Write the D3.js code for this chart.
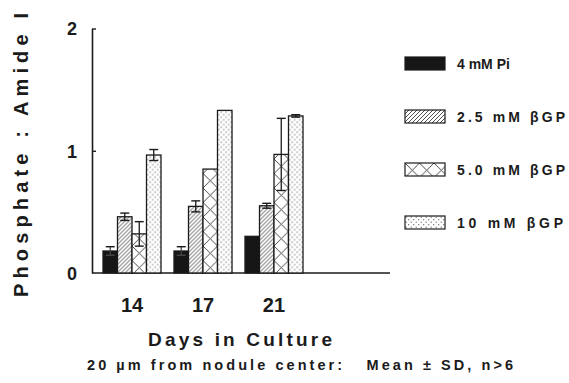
<!DOCTYPE html>
<html>
<head>
<meta charset="utf-8">
<script src="https://cdn.jsdelivr.net/npm/d3@7"></script>
<style>
  html, body { margin: 0; padding: 0; background: #fff; }
  svg { display: block; font-family: "Liberation Sans", Arial, Helvetica, sans-serif; font-weight: bold; }
</style>
</head>
<body>
<svg id="chart" width="569" height="383"></svg>
<script>
// Culture days (x categories)
const days = ["14", "17", "21"];
// Treatment series
const seriesNames = ["4 mM Pi", "2.5 mM βGP", "5.0 mM βGP", "10 mM βGP"];
const seriesFills = ["url(#solid)", "url(#hatch)", "url(#cross)", "url(#dots)"];
// Phosphate : Amide I ratio, mean per day
const piMean    = [0.18, 0.18, 0.30];
const bgp25Mean = [0.46, 0.545, 0.55];
const bgp50Mean = [0.32, 0.85, 0.97];
const bgp10Mean = [0.965, 1.33, 1.285];
// Standard deviations (0 = no bar drawn)
const piSD    = [0.035, 0.035, 0];
const bgp25SD = [0.03, 0.045, 0.02];
const bgp50SD = [0.10, 0, 0.295];
const bgp10SD = [0.045, 0, 0.01];
const yTicks = [0, 1, 2];

const means = [piMean, bgp25Mean, bgp50Mean, bgp10Mean];
const sds = [piSD, bgp25SD, bgp50SD, bgp10SD];

const W = 569, H = 383;
const margin = { top: 28.5, right: 179, bottom: 110, left: 92 };
const width = W - margin.left - margin.right;
const height = H - margin.top - margin.bottom;
const ink = "#1b1b1b";

const svg = d3.select("#chart");
svg.append("rect").attr("width", W).attr("height", H).attr("fill", "#fff");

// Fill patterns
const defs = svg.append("defs");
const solid = defs.append("pattern").attr("id", "solid")
  .attr("patternUnits", "userSpaceOnUse").attr("width", 4).attr("height", 4);
solid.append("rect").attr("width", 4).attr("height", 4).attr("fill", "#161616");

const hatch = defs.append("pattern").attr("id", "hatch")
  .attr("patternUnits", "userSpaceOnUse").attr("width", 4).attr("height", 4);
hatch.append("rect").attr("width", 4).attr("height", 4).attr("fill", "#fff");
hatch.append("path").attr("d", "M-1,1 l2,-2 M0,4 l4,-4 M3,5 l2,-2")
  .attr("stroke", "#3a3a3a").attr("stroke-width", 0.9);

const cross = defs.append("pattern").attr("id", "cross")
  .attr("patternUnits", "userSpaceOnUse").attr("width", 14.5).attr("height", 14.5);
cross.append("rect").attr("width", 14.5).attr("height", 14.5).attr("fill", "#fff");
cross.append("path").attr("d", "M0,0 L14.5,14.5 M14.5,0 L0,14.5")
  .attr("stroke", "#333").attr("stroke-width", 0.9);

const dots = defs.append("pattern").attr("id", "dots")
  .attr("patternUnits", "userSpaceOnUse").attr("width", 5).attr("height", 5);
dots.append("rect").attr("width", 5).attr("height", 5).attr("fill", "#fff");
dots.append("circle").attr("cx", 1.2).attr("cy", 1.2).attr("r", 0.6).attr("fill", "#555");
dots.append("circle").attr("cx", 3.7).attr("cy", 3.7).attr("r", 0.6).attr("fill", "#555");

const g = svg.append("g").attr("transform", `translate(${margin.left},${margin.top})`);

// Scales
const x0 = d3.scaleBand().domain(days).range([11, 211])
  .paddingInner(0.183).paddingOuter(0).align(0);
const x1 = d3.scaleBand().domain(d3.range(seriesNames.length))
  .range([0, x0.bandwidth()]).padding(0);
const y = d3.scaleLinear().domain([0, 2]).range([height, 0]);

// Y axis with inward ticks
const yAxis = g.append("g")
  .call(d3.axisLeft(y).tickValues(yTicks).tickFormat(d3.format("d"))
    .tickSizeInner(-4).tickSizeOuter(0).tickPadding(15));
yAxis.select(".domain").attr("stroke", ink).attr("stroke-width", 1.6);
yAxis.selectAll(".tick line").attr("stroke", ink).attr("stroke-width", 1.4)
  .filter(d => d === 0).remove();
yAxis.selectAll(".tick text").attr("fill", ink).style("font-size", "18px")
  .style("font-weight", "bold").attr("font-family", null).attr("dy", "0.36em");

// X axis: baseline spans the full plot width
g.append("line").attr("x1", 0).attr("x2", width).attr("y1", y(0)).attr("y2", y(0))
  .attr("stroke", ink).attr("stroke-width", 1.6);
const xAxis = g.append("g").attr("transform", `translate(0,${y(0)})`)
  .call(d3.axisBottom(x0).tickSize(0).tickPadding(25));
xAxis.select(".domain").remove();
xAxis.selectAll(".tick text").attr("fill", ink).style("font-size", "20px")
  .style("font-weight", "bold").attr("font-family", null);

// Bars
const flat = [];
days.forEach((d, i) => {
  seriesNames.forEach((s, j) => {
    flat.push({ day: d, s: j, v: means[j][i], sd: sds[j][i] });
  });
});

const barG = g.selectAll("g.bar").data(flat).join("g")
  .attr("class", "bar")
  .attr("transform", d => `translate(${x0(d.day) + x1(d.s)},0)`);

barG.append("rect")
  .attr("x", 0).attr("width", x1.bandwidth())
  .attr("y", d => y(d.v)).attr("height", d => y(0) - y(d.v))
  .attr("fill", d => seriesFills[d.s])
  .attr("stroke", ink).attr("stroke-width", 1.3);

// Error bars (mean ± SD)
const eb = barG.filter(d => d.sd > 0);
const cx = x1.bandwidth() / 2, cap = 4.5;
eb.append("line")
  .attr("x1", cx).attr("x2", cx)
  .attr("y1", d => y(d.v + d.sd)).attr("y2", d => y(d.v - d.sd))
  .attr("stroke", d => d.s === 0 ? "#444" : ink).attr("stroke-width", 1.3);
eb.append("line")
  .attr("x1", cx - cap).attr("x2", cx + cap)
  .attr("y1", d => y(d.v + d.sd)).attr("y2", d => y(d.v + d.sd))
  .attr("stroke", ink).attr("stroke-width", 1.4);
eb.append("line")
  .attr("x1", cx - cap).attr("x2", cx + cap)
  .attr("y1", d => y(d.v - d.sd)).attr("y2", d => y(d.v - d.sd))
  .attr("stroke", d => d.s === 0 ? "#444" : ink).attr("stroke-width", 1.4);

// Axis titles
svg.append("text")
  .attr("transform", "translate(28,155) rotate(-90)")
  .attr("text-anchor", "middle")
  .attr("textLength", 284).attr("lengthAdjust", "spacing")
  .attr("fill", ink).style("font-size", "20px")
  .text("Phosphate : Amide I");

svg.append("text")
  .attr("x", 240).attr("y", 346)
  .attr("text-anchor", "middle")
  .attr("textLength", 184).attr("lengthAdjust", "spacing")
  .attr("fill", ink).style("font-size", "19px")
  .text("Days in Culture");

svg.append("text")
  .attr("x", 300).attr("y", 370)
  .attr("text-anchor", "middle")
  .attr("textLength", 426).attr("lengthAdjust", "spacing")
  .attr("fill", ink).style("font-size", "14.5px")
  .style("white-space", "pre")
  .text("20 µm from nodule center:   Mean ± SD, n>6");

// Legend
const legendWidths = [52, 108, 108, 106];
const legend = svg.append("g").attr("transform", "translate(405,57)");
const item = legend.selectAll("g").data(seriesNames).join("g")
  .attr("transform", (d, i) => `translate(0,${i * 53})`);
item.append("rect")
  .attr("width", 40).attr("height", 13)
  .attr("fill", (d, i) => seriesFills[i])
  .attr("stroke", ink).attr("stroke-width", 1.2);
item.append("text")
  .attr("x", 52).attr("y", 11.5)
  .attr("fill", ink).style("font-size", "14px")
  .text(d => d)
  .each(function (d, i) {
    // widen letter spacing only where the label runs shorter than its slot
    if (this.getComputedTextLength() < legendWidths[i]) {
      d3.select(this).attr("textLength", legendWidths[i]).attr("lengthAdjust", "spacing");
    }
  });
</script>
</body>
</html>
